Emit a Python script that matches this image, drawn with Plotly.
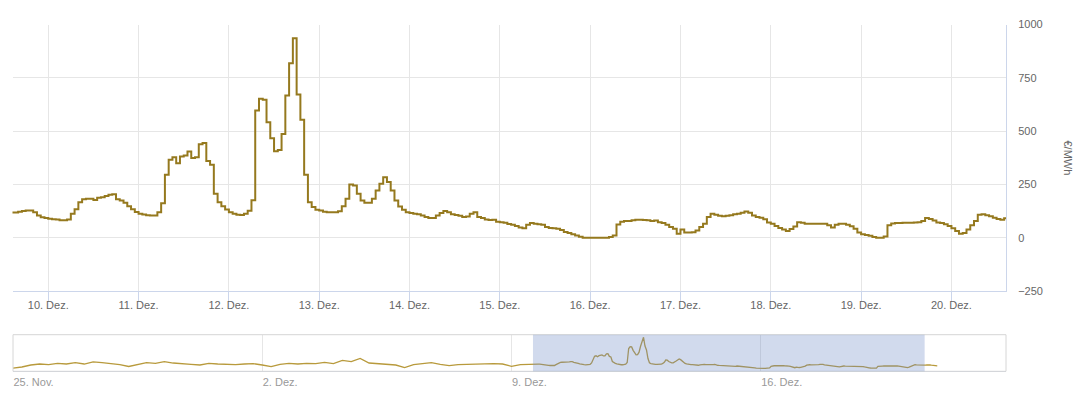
import pandas as pd
import plotly.graph_objects as go

# ---------------- data ----------------
# hourly day-ahead prices (EUR/MWh), starting 2024-12-09 14:00
hourly_start = "2024-12-09 14:00"
prices_dec09 = [118, 118, 122, 125, 128, 128, 119, 104, 96, 92]
prices_dec10 = [89, 87, 85, 82, 82, 85, 112, 134, 167, 180, 183, 183, 177, 188, 190, 196, 202, 204, 181, 175, 164, 148, 134, 121]
prices_dec11 = [113, 109, 106, 104, 104, 120, 162, 295, 366, 378, 350, 381, 386, 405, 374, 378, 438, 444, 360, 342, 206, 167, 148, 133]
prices_dec12 = [120, 113, 108, 107, 113, 126, 176, 597, 652, 647, 542, 467, 406, 412, 487, 667, 819, 936, 672, 553, 295, 167, 144, 131]
prices_dec13 = [128, 122, 119, 119, 119, 124, 148, 183, 250, 245, 206, 175, 164, 164, 183, 222, 253, 284, 262, 222, 175, 147, 131, 119]
prices_dec14 = [116, 113, 110, 104, 97, 92, 92, 104, 116, 125, 120, 110, 107, 103, 97, 100, 113, 120, 97, 92, 86, 83, 84, 75]
prices_dec15 = [73, 70, 64, 61, 55, 48, 45, 61, 69, 66, 63, 61, 50, 46, 45, 42, 36, 27, 22, 16, 11, 5, 0, 0]
prices_dec16 = [0, 0, 0, 0, 0, 3, 11, 62, 75, 78, 78, 82, 84, 84, 83, 82, 78, 81, 73, 69, 61, 50, 42, 19]
prices_dec17 = [38, 24, 24, 26, 34, 50, 66, 97, 112, 108, 103, 101, 103, 106, 110, 112, 117, 123, 117, 104, 97, 94, 87, 72]
prices_dec18 = [66, 55, 46, 38, 31, 41, 53, 73, 70, 66, 66, 66, 66, 66, 66, 58, 48, 61, 66, 66, 61, 54, 42, 25]
prices_dec19 = [16, 13, 9, 3, 0, 0, 6, 58, 67, 69, 69, 70, 70, 70, 72, 73, 78, 92, 88, 81, 72, 69, 63, 55]
prices_dec20 = [45, 31, 19, 22, 38, 58, 78, 108, 110, 106, 101, 94, 88, 84, 91, 95, 100, 108, 104, 96, 90, 85, 80, 74]

# coarse (6-hourly) history shown only in the navigator, starting 2024-11-25 00:00
history_start = "2024-11-25 00:00"
history_6h = [5, 40, 100, 130,
              110, 150, 130, 170,
              130, 195, 170, 150,
              110, 55, 120, 170,
              150, 200, 160, 150,
              120, 100, 150, 130,
              120, 110, 130, 140,
              100, 50, 120, 150,
              130, 150, 140, 180,
              140, 240, 200, 300,
              160, 140, 130, 100,
              20, 110, 140, 170,
              120, 80, 110, 120,
              120, 130, 140, 130,
              60, 110, 130]

main_tick_dates = ["2024-12-%02d" % d for d in range(10, 21)]
main_tick_labels = ["%d. Dez." % d for d in range(10, 21)]
nav_tick_dates = ["2024-11-25", "2024-12-02", "2024-12-09", "2024-12-16"]
nav_tick_labels = ["25. Nov.", "2. Dez.", "9. Dez.", "16. Dez."]
y_ticks = [-250, 0, 250, 500, 750, 1000]

main_range = ["2024-12-09 14:30", "2024-12-20 14:30"]
nav_range = ["2024-11-25 00:00", "2024-12-22 21:20"]

# ---------------- build ----------------
hourly = (prices_dec09 + prices_dec10 + prices_dec11 + prices_dec12 + prices_dec13 + prices_dec14
          + prices_dec15 + prices_dec16 + prices_dec17 + prices_dec18 + prices_dec19 + prices_dec20)
hourly_x = pd.date_range(hourly_start, periods=len(hourly), freq="h")
hist_x = pd.date_range(history_start, periods=len(history_6h), freq="6h")

LINE = "#95791e"
GRID = "#e6e6e6"
AXIS = "#ccd6eb"
FONT = "Liberation Sans"

fig = go.Figure()
fig.add_trace(go.Scatter(x=hourly_x, y=hourly, mode="lines",
                         line=dict(shape="hv", color=LINE, width=2),
                         xaxis="x", yaxis="y", hoverinfo="skip", showlegend=False))
fig.add_trace(go.Scatter(x=list(hist_x) + list(hourly_x), y=history_6h + hourly, mode="lines",
                         line=dict(color="#b89a3c", width=1.3),
                         xaxis="x2", yaxis="y2", hoverinfo="skip", showlegend=False))

W, H = 1080, 395
px = lambda v: v / W
py = lambda v: 1 - v / H

fig.update_layout(
    width=W, height=H,
    margin=dict(l=0, r=0, t=0, b=0),
    paper_bgcolor="white", plot_bgcolor="white",
    font=dict(family=FONT, size=11, color="#666666"),
    xaxis=dict(domain=[px(12.5), px(1006)], anchor="y", range=main_range,
               tickvals=main_tick_dates, ticktext=main_tick_labels,
               showgrid=True, gridcolor=GRID, gridwidth=1,
               showline=True, linecolor=AXIS, linewidth=1,
               ticks="outside", ticklen=10, tickcolor=AXIS, zeroline=False,
               ticklabelstandoff=-6,
               tickfont=dict(color="#666666", size=11), automargin=False),
    yaxis=dict(domain=[py(291), py(24.6)], anchor="x", range=[-250, 1000],
               side="right", tickvals=y_ticks,
               showgrid=True, gridcolor=GRID, gridwidth=1,
               showline=True, linecolor=AXIS, linewidth=1,
               ticks="", ticklabelstandoff=9, zeroline=False,
               tickfont=dict(color="#666666", size=11), automargin=False),
    xaxis2=dict(domain=[px(13), px(1006)], anchor="y2", range=nav_range,
                tickvals=nav_tick_dates, ticktext=nav_tick_labels,
                ticklabelposition="outside right",
                showgrid=True, gridcolor=GRID, gridwidth=1,
                showline=True, linecolor=AXIS, linewidth=1,
                ticks="", zeroline=False,
                tickfont=dict(color="#999999", size=11), automargin=False),
    yaxis2=dict(domain=[py(371.3), py(334.7)], anchor="x2", range=[-90, 1015],
                visible=False, showgrid=False, zeroline=False),
    shapes=[
        dict(type="rect", xref="x2 domain", yref="y2 domain", x0=0, x1=1, y0=0, y1=1,
             line=dict(color="#d6d6d6", width=1), fillcolor="rgba(0,0,0,0)", layer="above"),
        dict(type="rect", xref="x2", yref="y2 domain", x0=main_range[0], x1=main_range[1],
             y0=0, y1=1, line=dict(width=0), fillcolor="rgba(102,133,194,0.3)", layer="above"),
    ],
    annotations=[
        dict(text="€/MWh", xref="paper", yref="paper", x=px(1068), y=py(157.5),
             textangle=90, showarrow=False, font=dict(size=11, color="#666666"),
             xanchor="center", yanchor="middle"),
    ],
)

fig.write_html("out.html",
               config={"displayModeBar": False},
               post_script="document.body.style.margin='0';document.body.style.overflow='hidden';")
